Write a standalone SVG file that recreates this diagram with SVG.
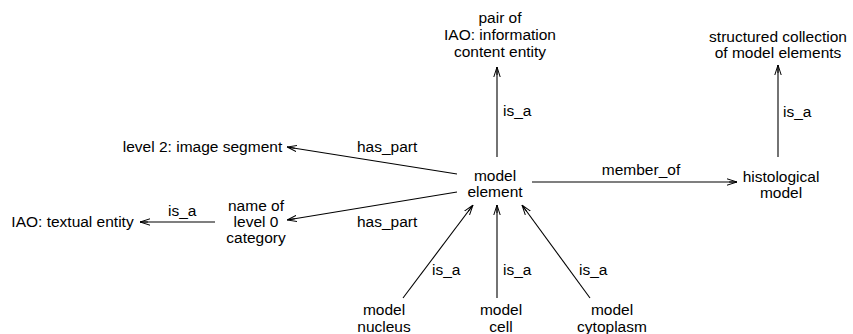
<svg xmlns="http://www.w3.org/2000/svg" width="853" height="334" viewBox="0 0 853 334">
<style>
text{font-family:"Liberation Sans",Arial,sans-serif;font-size:15.5px;fill:#000}
.c{text-anchor:middle}
.e{stroke:#000;stroke-width:1.1;fill:none;marker-end:url(#ah)}
</style>
<defs>
<marker id="ah" viewBox="0 0 10 8" refX="10" refY="4" markerWidth="10" markerHeight="8" orient="auto" markerUnits="userSpaceOnUse">
<path d="M0,0.8 L10,4 L0,7.2 M2,4 L10,4" fill="none" stroke="#000" stroke-width="1"/>
</marker>
</defs>
<rect width="853" height="334" fill="#fff"/>
<g id="connectors">
<line class="e" x1="497" y1="157" x2="497" y2="67"/>
<line class="e" x1="457" y1="174" x2="287" y2="147"/>
<line class="e" x1="457" y1="192" x2="287" y2="220"/>
<line class="e" x1="215" y1="222" x2="140" y2="222"/>
<line class="e" x1="532" y1="182" x2="737" y2="182"/>
<line class="e" x1="778" y1="157" x2="778" y2="65"/>
<line class="e" x1="403" y1="298" x2="473" y2="205"/>
<line class="e" x1="497" y1="298" x2="497" y2="205"/>
<line class="e" x1="590" y1="298" x2="522" y2="205"/>
<text x="503" y="116">is_a</text>
<text x="357" y="152">has_part</text>
<text x="357" y="227">has_part</text>
<text x="168" y="216">is_a</text>
<text class="c" x="641" y="175">member_of</text>
<text x="783" y="117">is_a</text>
<text x="432" y="275">is_a</text>
<text x="503" y="275">is_a</text>
<text x="579" y="275">is_a</text>
</g>
<g id="pair"><text class="c" x="500" y="23">pair of</text><text class="c" x="500" y="40">IAO: information</text><text class="c" x="500" y="57">content entity</text></g>
<g id="structured"><text class="c" x="778" y="42">structured collection</text><text class="c" x="778" y="58">of model elements</text></g>
<g id="level2"><text class="c" x="202.5" y="152">level 2: image segment</text></g>
<g id="model_element"><text class="c" x="495" y="181">model</text><text class="c" x="495" y="197">element</text></g>
<g id="histological"><text class="c" x="781" y="182">histological</text><text class="c" x="781" y="198">model</text></g>
<g id="name_level0"><text class="c" x="256" y="211">name of</text><text class="c" x="256" y="227">level 0</text><text class="c" x="256" y="243">category</text></g>
<g id="textual"><text class="c" x="72.5" y="227">IAO: textual entity</text></g>
<g id="nucleus"><text class="c" x="384" y="315">model</text><text class="c" x="384" y="332">nucleus</text></g>
<g id="cell"><text class="c" x="501" y="315">model</text><text class="c" x="501" y="332">cell</text></g>
<g id="cytoplasm"><text class="c" x="612" y="315">model</text><text class="c" x="612" y="332">cytoplasm</text></g>
</svg>
